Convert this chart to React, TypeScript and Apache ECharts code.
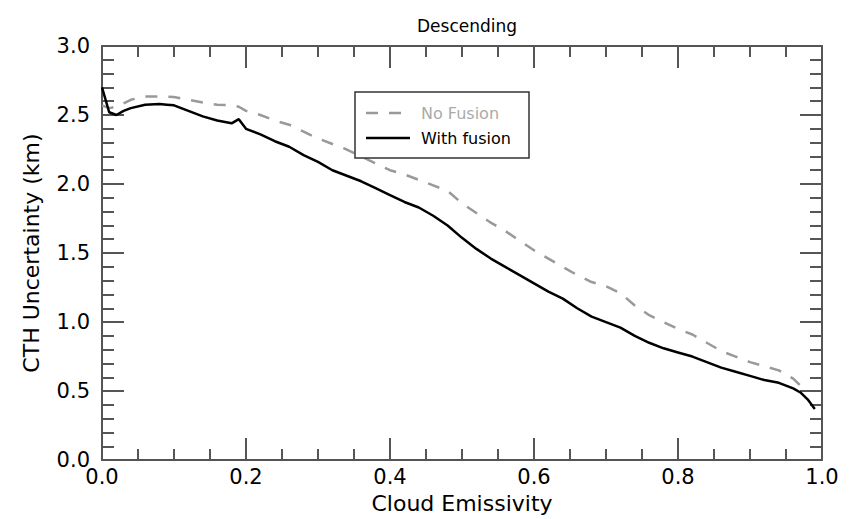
import React, { useEffect, useRef } from "react";
import * as echarts from "echarts";

const xFusion = [0.0, 0.01, 0.02, 0.03, 0.04, 0.06, 0.08, 0.09, 0.1, 0.12, 0.14, 0.16, 0.18, 0.19, 0.2, 0.22, 0.24, 0.26, 0.28, 0.3, 0.32, 0.34, 0.36, 0.38, 0.4, 0.42, 0.44, 0.46, 0.48, 0.5, 0.52, 0.54, 0.56, 0.58, 0.6, 0.62, 0.64, 0.66, 0.68, 0.7, 0.72, 0.74, 0.76, 0.78, 0.8, 0.82, 0.84, 0.86, 0.88, 0.9, 0.92, 0.94, 0.96, 0.97, 0.98, 0.99];
const yFusion = [2.7, 2.52, 2.5, 2.53, 2.55, 2.575, 2.58, 2.575, 2.57, 2.53, 2.49, 2.46, 2.44, 2.47, 2.4, 2.36, 2.31, 2.27, 2.21, 2.16, 2.1, 2.06, 2.02, 1.97, 1.92, 1.87, 1.83, 1.77, 1.7, 1.61, 1.53, 1.46, 1.4, 1.34, 1.28, 1.22, 1.17, 1.1, 1.04, 1.0, 0.96, 0.9, 0.85, 0.81, 0.78, 0.75, 0.71, 0.67, 0.64, 0.61, 0.58, 0.56, 0.52, 0.49, 0.44, 0.37];

const xNoFusion = [0.0, 0.01, 0.02, 0.04, 0.06, 0.08, 0.1, 0.12, 0.14, 0.16, 0.18, 0.19, 0.2, 0.22, 0.24, 0.26, 0.28, 0.3, 0.32, 0.34, 0.36, 0.38, 0.4, 0.42, 0.44, 0.46, 0.48, 0.5, 0.52, 0.54, 0.56, 0.58, 0.6, 0.62, 0.64, 0.66, 0.68, 0.7, 0.72, 0.74, 0.76, 0.78, 0.8, 0.82, 0.84, 0.86, 0.88, 0.9, 0.92, 0.94, 0.96, 0.97, 0.98];
const yNoFusion = [2.57, 2.55, 2.56, 2.61, 2.635, 2.635, 2.63, 2.61, 2.59, 2.575, 2.57, 2.56, 2.53, 2.5, 2.46, 2.43, 2.38, 2.33, 2.29, 2.25, 2.2, 2.15, 2.1, 2.07, 2.03, 1.99, 1.95, 1.86, 1.79, 1.72, 1.66, 1.59, 1.52, 1.46, 1.4, 1.34, 1.29, 1.26, 1.21, 1.12, 1.05, 1.0, 0.95, 0.91, 0.85, 0.79, 0.75, 0.71, 0.68, 0.65, 0.59, 0.54, 0.49];

const seriesNames = ["No Fusion", "With fusion"];
const FONT = "DejaVu Sans";
const AXIS_COLOR = "#555";

function xAxisDef(position: string, extra: any) {
  return {
    type: "value",
    position,
    min: 0,
    max: 1,
    interval: 0.2,
    axisLine: { show: true, onZero: false, lineStyle: { color: AXIS_COLOR, width: 2 } },
    splitLine: { show: false },
    axisTick: { show: true, inside: true, length: 22, lineStyle: { color: AXIS_COLOR, width: 2 } },
    minorTick: { show: true, splitNumber: 4, length: 11, lineStyle: { color: AXIS_COLOR, width: 2 } },
    ...extra,
  };
}

function yAxisDef(position: string, extra: any) {
  return {
    type: "value",
    position,
    min: 0,
    max: 3,
    interval: 0.5,
    axisLine: { show: true, onZero: false, lineStyle: { color: AXIS_COLOR, width: 2 } },
    splitLine: { show: false },
    axisTick: { show: true, inside: true, length: 22, lineStyle: { color: AXIS_COLOR, width: 2 } },
    minorTick: { show: true, splitNumber: 5, length: 12, lineStyle: { color: AXIS_COLOR, width: 2 } },
    ...extra,
  };
}

export default function App() {
  const ref = useRef<HTMLDivElement>(null);
  useEffect(() => {
    if (!ref.current) return;
    const chart = echarts.init(ref.current, undefined, { renderer: "svg" });
    const DASH = [12, 11];
    chart.setOption({
      animation: false,
      backgroundColor: "#fff",
      textStyle: { fontFamily: FONT },
      title: {
        text: "Descending",
        left: 462,
        textAlign: "center",
        top: 12,
        textStyle: { fontFamily: FONT, fontSize: 17, fontWeight: "normal", color: "#000" },
      },
      grid: { left: 102, right: 36, top: 46, bottom: 51 },
      xAxis: [
        xAxisDef("bottom", {
          name: "Cloud Emissivity",
          nameLocation: "middle",
          nameGap: 27,
          nameTextStyle: { fontFamily: FONT, fontSize: 22, color: "#000" },
          axisLabel: {
            show: true,
            margin: 6,
            fontFamily: FONT,
            fontSize: 21,
            color: "#000",
            formatter: (v: number) => v.toFixed(1),
          },
        }),
        xAxisDef("top", { axisLabel: { show: false } }),
      ],
      yAxis: [
        yAxisDef("left", {
          name: "CTH Uncertainty (km)",
          nameLocation: "middle",
          nameGap: 60,
          nameTextStyle: { fontFamily: FONT, fontSize: 22, color: "#000" },
          axisLabel: {
            show: true,
            margin: 12,
            fontFamily: FONT,
            fontSize: 21,
            color: "#000",
            formatter: (v: number) => v.toFixed(1),
          },
        }),
        yAxisDef("right", { axisLabel: { show: false } }),
      ],
      graphic: [
        {
          type: "rect",
          z: 100,
          shape: { x: 355, y: 92, width: 174, height: 66 },
          style: { fill: "#fff", stroke: "#333", lineWidth: 1.5 },
        },
        {
          type: "line",
          z: 101,
          shape: { x1: 366, y1: 113, x2: 410, y2: 113 },
          style: { stroke: "#999", lineWidth: 2.5, lineDash: [12, 11] },
        },
        {
          type: "text",
          z: 101,
          x: 421,
          y: 113,
          style: { text: seriesNames[0], fill: "#aaa", font: `16px "${FONT}"`, verticalAlign: "middle" },
        },
        {
          type: "line",
          z: 101,
          shape: { x1: 366, y1: 138, x2: 410, y2: 138 },
          style: { stroke: "#000", lineWidth: 2.5 },
        },
        {
          type: "text",
          z: 101,
          x: 421,
          y: 138,
          style: { text: seriesNames[1], fill: "#000", font: `16px "${FONT}"`, verticalAlign: "middle" },
        },
      ],
      series: [
        {
          name: seriesNames[0],
          type: "line",
          xAxisIndex: 0,
          yAxisIndex: 0,
          showSymbol: false,
          symbol: "none",
          data: xNoFusion.map((x, i) => [x, yNoFusion[i]]),
          lineStyle: { color: "#999", width: 2.5, type: DASH },
          z: 3,
        },
        {
          name: seriesNames[1],
          type: "line",
          xAxisIndex: 0,
          yAxisIndex: 0,
          showSymbol: false,
          symbol: "none",
          data: xFusion.map((x, i) => [x, yFusion[i]]),
          lineStyle: { color: "#000", width: 2.5 },
          z: 4,
        },
      ],
    });
    return () => chart.dispose();
  }, []);
  return <div ref={ref} style={{ width: 858, height: 519, position: "absolute", left: 0, top: 0 }} />;
}
